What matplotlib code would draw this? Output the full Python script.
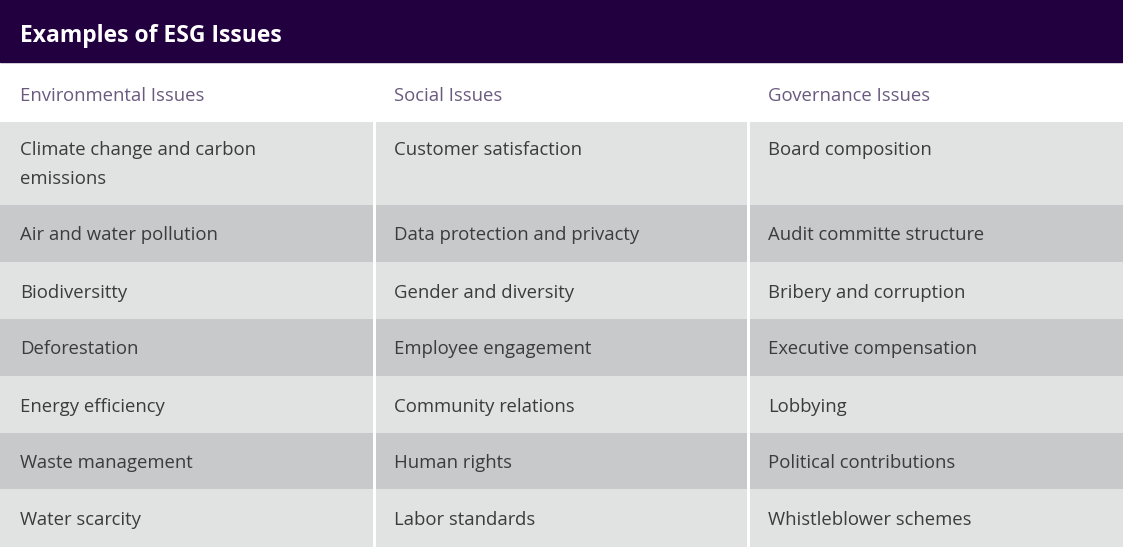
import matplotlib
matplotlib.use("Agg")
import matplotlib.pyplot as plt
from matplotlib.patches import Rectangle

title = "Examples of ESG Issues"
headers = ["Environmental Issues", "Social Issues", "Governance Issues"]
environmental = ["Climate change and carbon\nemissions", "Air and water pollution", "Biodiversitty",
                 "Deforestation", "Energy efficiency", "Waste management", "Water scarcity"]
social = ["Customer satisfaction", "Data protection and privacty", "Gender and diversity",
          "Employee engagement", "Community relations", "Human rights", "Labor standards"]
governance = ["Board composition", "Audit committe structure", "Bribery and corruption",
              "Executive compensation", "Lobbying", "Political contributions", "Whistleblower schemes"]

W, H = 1123, 547
fig = plt.figure(figsize=(W/100, H/100), dpi=100)
ax = fig.add_axes([0, 0, 1, 1])
ax.set_xlim(0, W); ax.set_ylim(H, 0); ax.axis("off")
fig.patch.set_facecolor("white")
font = "Open Sans"
fs = 13.3

ax.add_patch(Rectangle((0, 0), W, 62, color="#22003f"))
ax.text(20, 36, title, color="white", fontsize=16.5, fontweight="bold", va="center", family=font)

col_x = [0, 376, 750]
col_w = [373, 371, 373]
text_x = [20, 394, 768]
for i, h in enumerate(headers):
    ax.text(text_x[i], 96, h, color="#6a5a80", fontsize=fs, va="center", family=font)

row_edges = [122, 205, 262, 319, 376, 433, 489, 547]
cols = [environmental, social, governance]
for r in range(len(environmental)):
    y0, y1 = row_edges[r], row_edges[r + 1]
    color = "#e1e3e3" if r % 2 == 0 else "#c8c9ca"
    for c in range(3):
        ax.add_patch(Rectangle((col_x[c], y0), col_w[c], y1 - y0, color=color, lw=0))
        if r == 0:
            ax.text(text_x[c], y0 + 19, cols[c][r], color="#3c3c3c", fontsize=fs,
                    va="top", family=font, linespacing=1.75)
        else:
            ax.text(text_x[c], (y0 + y1) / 2 + 2, cols[c][r], color="#3c3c3c", fontsize=fs,
                    va="center", family=font)

fig.savefig("out.png", dpi=100)
